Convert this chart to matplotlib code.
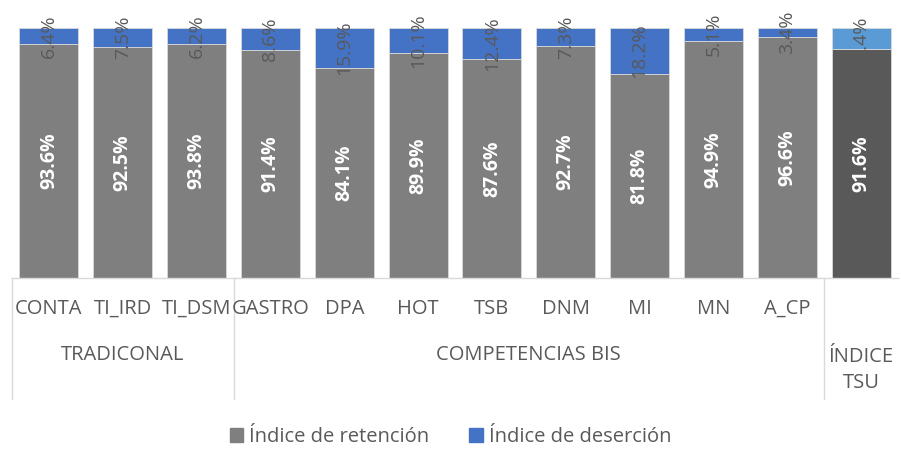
import matplotlib
matplotlib.use("Agg")
import matplotlib.pyplot as plt
import numpy as np
from matplotlib.patches import Patch
from matplotlib.lines import Line2D

plt.rcParams['font.family'] = ['Open Sans', 'DejaVu Sans']

categories = ["CONTA", "TI_IRD", "TI_DSM", "GASTRO", "DPA", "HOT", "TSB", "DNM", "MI", "MN", "A_CP", ""]
groups = [("TRADICONAL", 0, 2), ("COMPETENCIAS BIS", 3, 10), ("ÍNDICE\nTSU", 11, 11)]
retencion = [93.6, 92.5, 93.8, 91.4, 84.1, 89.9, 87.6, 92.7, 81.8, 94.9, 96.6, 91.6]
desercion = [6.4, 7.5, 6.2, 8.6, 15.9, 10.1, 12.4, 7.3, 18.2, 5.1, 3.4, 8.4]

c_ret = "#7f7f7f"
c_des = "#4472c4"
c_ret_tsu = "#595959"
c_des_tsu = "#5b9bd5"
txt = "#595959"

fig = plt.figure(figsize=(9.01, 4.49), dpi=100)
H = 449
ax = fig.add_axes([12/901, 1 - 278/H, 886/901, 250/H])

x = np.arange(len(categories))
ret_colors = [c_ret] * (len(x) - 1) + [c_ret_tsu]
des_colors = [c_des] * (len(x) - 1) + [c_des_tsu]
ax.bar(x, retencion, width=0.8, color=ret_colors, edgecolor="#d9d9d9", linewidth=0.6)
ax.bar(x, desercion, width=0.8, bottom=retencion, color=des_colors, edgecolor="#d9d9d9", linewidth=0.6)

for xi, r, d in zip(x, retencion, desercion):
    ax.text(xi, r / 2, f"{r:.1f}%", rotation=90, ha="center", va="center",
            color="white", fontsize=14, fontweight="bold", clip_on=False)
    ax.text(xi, r + d / 2, f"{d:.1f}%", rotation=90, ha="center", va="center",
            color=txt, fontsize=14, clip_on=False)

ax.set_xlim(-0.5, len(x) - 0.5)
ax.set_ylim(0, 100)
ax.set_yticks([])
ax.set_xticks([])
for s in ["top", "right", "left"]:
    ax.spines[s].set_visible(False)
ax.spines["bottom"].set_color("#d9d9d9")
ax.spines["bottom"].set_linewidth(1)

trans = ax.get_xaxis_transform()
px = 1 / 250.0
for xi, c in zip(x, categories):
    ax.text(xi, -31 * px, c, transform=trans, ha="center", va="center",
            fontsize=14.5, color=txt, clip_on=False)
for name, a, b in groups:
    ax.text((a + b) / 2, -(92 if "\n" in name else 77) * px, name, transform=trans,
            ha="center", va="center", fontsize=14.5, color=txt, linespacing=1.45, clip_on=False)

for xd in [-0.5, 2.5, 10.5]:
    ax.add_line(Line2D([xd, xd], [0, -121 * px], transform=trans, color="#d9d9d9",
                       linewidth=1, clip_on=False))

handles = [Patch(color=c_ret, label="Índice de retención"),
           Patch(color=c_des, label="Índice de deserción")]
fig.legend(handles=handles, loc="center", bbox_to_anchor=(0.5, 1 - 437 / H), ncol=2,
           frameon=False, fontsize=14.5, handlelength=0.65, handleheight=0.65,
           handletextpad=0.3, columnspacing=2.0, labelcolor=txt)

fig.savefig("out.png", dpi=100)
